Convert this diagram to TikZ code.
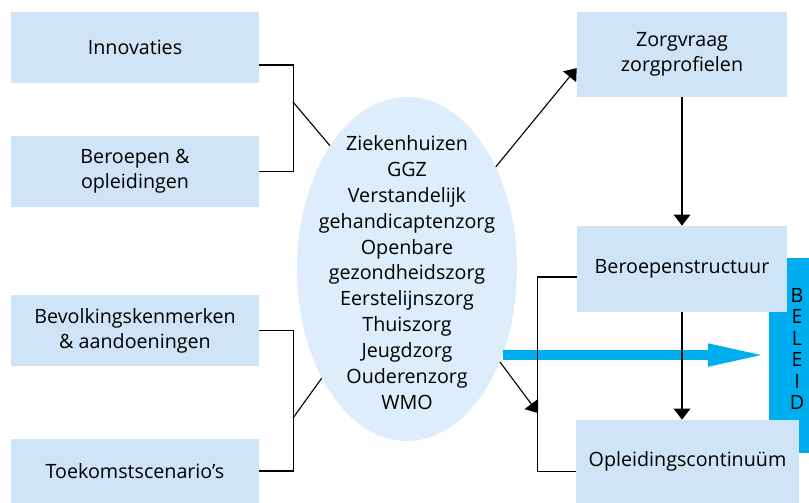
\documentclass[tikz,border=0pt]{standalone}
\usepackage{fontspec}
\setmainfont{Open Sans}
\usetikzlibrary{arrows.meta,shapes.geometric}
\definecolor{boxblue}{RGB}{207,229,247}
\definecolor{ovalblue}{RGB}{221,237,251}
\definecolor{beleidblue}{RGB}{0,174,239}

\begin{document}
\begin{tikzpicture}[x=0.025cm, y=-0.025cm,
        field/.style={fill=boxblue, inner sep=0pt, align=center, font=\fontsize{14}{17.7}\selectfont},
        link/.style={line width=0.8pt},
        arr/.style={line width=0.8pt, -{Triangle[length=0.28cm, width=0.42cm]}}]

    % the frame
    \useasboundingbox (0,0) rectangle (809,503);

    % policy bar
    \node[fill=beleidblue, minimum width=1cm, minimum height=4.875cm, inner sep=0pt] (beleid) at (789,355.5) {};

    % left column
    \node[field, minimum width=6.2cm, minimum height=1.775cm] (innov) at (135,47.5) {Innovaties};
    \node[field, minimum width=6.2cm, minimum height=1.775cm] (beroep) at (135,171.5) {Beroepen \&\\opleidingen};
    \node[field, minimum width=6.2cm, minimum height=1.775cm] (bevolk) at (135,330.5) {Bevolkingskenmerken\\\& aandoeningen};
    \node[field, minimum width=6.2cm, minimum height=1.6cm] (toekomst) at (135,471) {Toekomstscenario’s};

    % right column
    \node[field, minimum width=5.25cm, minimum height=2.125cm] (zorgvraag) at (682,54.5) {Zorgvraag\\zorgprofielen};
    \node[field, minimum width=5.25cm, minimum height=2.15cm] (beroepstr) at (682,269) {Beroepenstructuur};
    \node[field, minimum width=5.575cm, minimum height=2.075cm] (opleid) at (687.5,461.5) {Opleidingscontinuüm};

    % the sectors
    \node[ellipse, fill=ovalblue, minimum width=5.5cm, minimum height=8.6cm, inner sep=0pt] (sectors) at (407,269) {};
    \node[align=center, inner sep=0pt, font=\fontsize{14}{18.4}\selectfont] (sectorlist) at (407,272.5)
        {Ziekenhuizen\\GGZ\\Verstandelijk\\gehandicaptenzorg\\Openbare\\gezondheidszorg\\Eerstelijnszorg\\Thuiszorg\\Jeugdzorg\\Ouderenzorg\\WMO};

    % big arrow
    \draw[line width=0.25cm, beleidblue, -{Triangle[length=1.52cm, width=0.5cm]}] (sectors.-42) -- (sectors.-42 -| beleid.west);

    \node[align=center, inner sep=0pt, font=\fontsize{14}{15.2}\selectfont] (beleidtext) at (797,349) {B\\E\\L\\E\\I\\D};

    % inputs
    \draw[link] ([yshift=-0.4375cm]innov.east) -- ++(34,0) |- (beroep.east);
    \coordinate (joinA) at (293,102);
    \draw[link] (joinA) -- (sectors.122.7);
    \draw[link] (bevolk.east) -- ++(34,0) |- (toekomst.east);
    \coordinate (joinB) at (293,418);
    \draw[link] (joinB) -- (sectors.232.9);

    % outputs
    \draw[arr] (sectors.49.4) -- ([yshift=-0.34cm]zorgvraag.west);
    \draw[arr] (zorgvraag.south) -- (beroepstr.north);
    \draw[arr] (beroepstr.south) -- (beroepstr.south |- opleid.north);
    \draw[link] ([yshift=-0.2cm]beroepstr.west) -- ++(-39,0) |- ([yshift=-0.24cm]opleid.west);
    \coordinate (hit) at (538,413);
    \draw[arr] (sectors.-45.9) -- (hit);
\end{tikzpicture}
\end{document}
